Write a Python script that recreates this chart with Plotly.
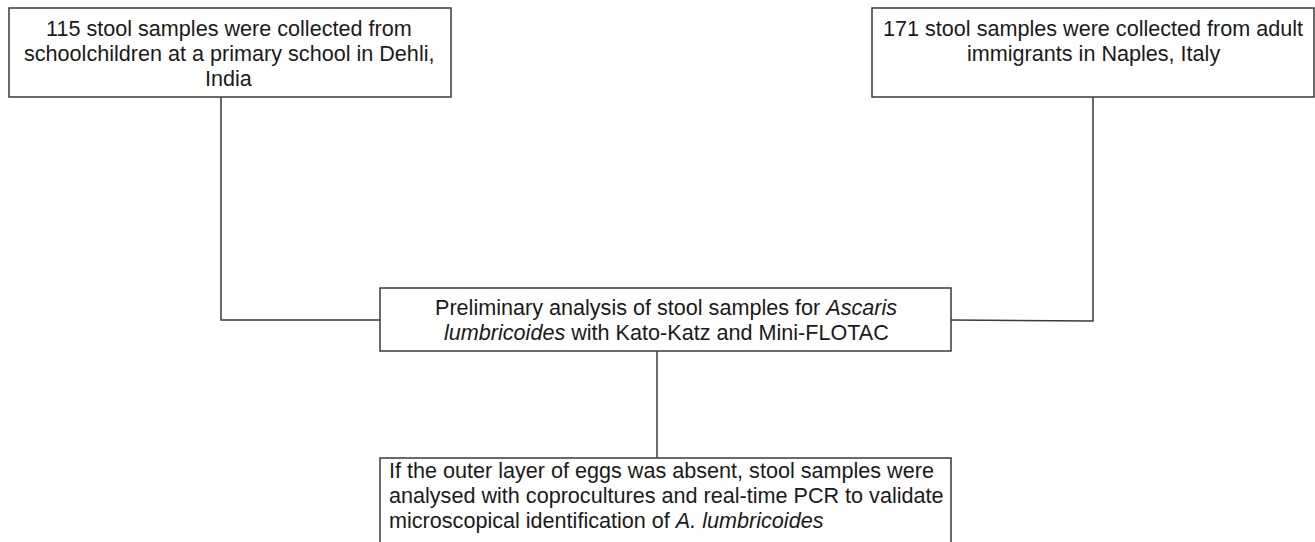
import plotly.graph_objects as go

# Node texts (one list of lines per box)
node_lines = [
    ["115 stool samples were collected from",
     "schoolchildren at a primary school in Dehli,",
     "India"],
    ["171 stool samples were collected from adult",
     "immigrants in Naples, Italy"],
    ["Preliminary analysis of stool samples for <i>Ascaris</i>",
     "<i>lumbricoides</i> with Kato-Katz and Mini-FLOTAC"],
    ["If the outer layer of eggs was absent, stool samples were",
     "analysed with coprocultures and real-time PCR to validate",
     "microscopical identification of <i>A. lumbricoides</i>"],
]

# Geometry (pixel coordinates; y grows downward)
boxes = [
    (9, 8, 451, 97),
    (872, 8, 1314, 97),
    (380, 288, 951, 351),
    (380, 458, 951, 560),
]
text_x = [229, 1093, 666, 387]
text_align = ["center", "center", "center", "left"]
first_line_y = [28, 28, 307, 470]
line_step = 25
connectors = [
    [(221, 97), (221, 320), (380, 320)],
    [(1093, 97), (1093, 321), (951, 320)],
    [(657, 351), (657, 458)],
]

W, H = 1315, 542
line_col = "#3a3a3a"
fig = go.Figure()

shapes = []
for (x0, y0, x1, y1) in boxes:
    shapes.append(dict(type="rect", xref="x", yref="y", x0=x0, y0=y0, x1=x1, y1=y1,
                       line=dict(color=line_col, width=1.5), fillcolor="white", layer="below"))
for pts in connectors:
    path = "M " + " L ".join(f"{x},{y}" for x, y in pts)
    shapes.append(dict(type="path", xref="x", yref="y", path=path,
                       line=dict(color=line_col, width=1.5), layer="below"))

annotations = []
for lines, x, al, y0 in zip(node_lines, text_x, text_align, first_line_y):
    for i, ln in enumerate(lines):
        annotations.append(dict(x=x, y=y0 + i * line_step, xref="x", yref="y", text=ln, showarrow=False,
                                xanchor="center" if al == "center" else "left", yanchor="middle",
                                align=al, font=dict(family="Liberation Sans, Arial", size=21.6, color="#1a1a1a")))

fig.update_layout(
    width=W, height=H,
    margin=dict(l=0, r=0, t=0, b=0),
    paper_bgcolor="white", plot_bgcolor="white",
    xaxis=dict(range=[0, W], visible=False, fixedrange=True),
    yaxis=dict(range=[H, 0], visible=False, fixedrange=True),
    shapes=shapes, annotations=annotations, showlegend=False,
)
fig.write_html("out.html", config={"displayModeBar": False},
               post_script="document.body.style.margin='0';")
